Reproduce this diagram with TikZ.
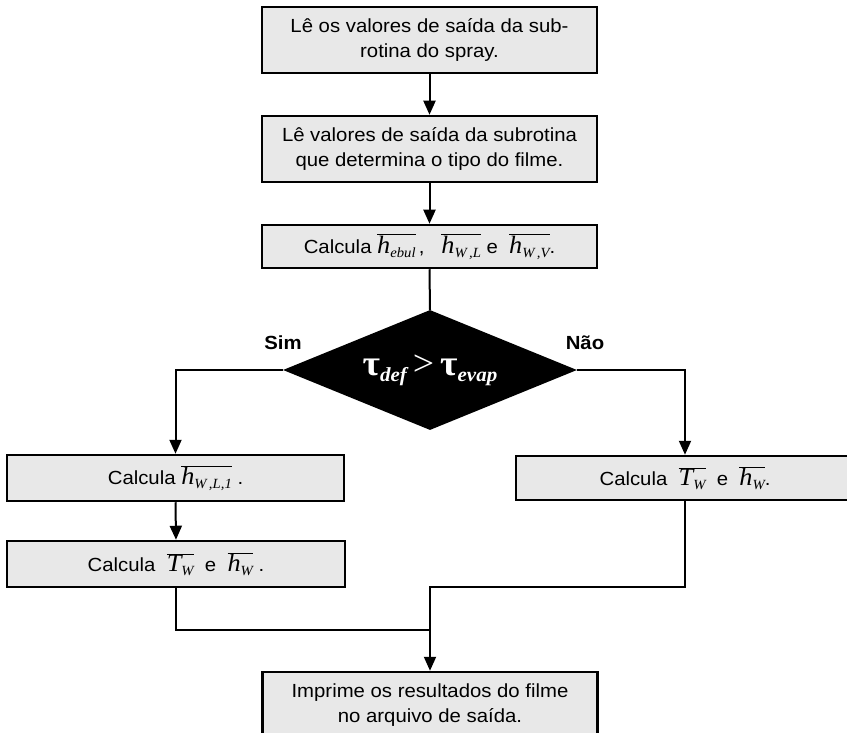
\documentclass[tikz,border=0pt]{standalone}
\usepackage{fontspec}
\setmainfont{Liberation Sans}[FakeStretch=1.07]
\newfontfamily\tms{Liberation Serif}[FakeStretch=1.05]
\usetikzlibrary{arrows.meta,shapes.geometric}
\definecolor{boxgray}{HTML}{E8E8E8}
\newcommand\ovl[1]{$\overline{\mbox{#1}}$}
\newcommand\sbx[1]{\raisebox{-4pt}{\fontsize{14}{14}\selectfont #1}}
\newcommand\hv[1]{\ovl{\tms\itshape\fontsize{25}{25}\selectfont h\sbx{#1}}}
\newcommand\Tv[1]{\ovl{\tms\itshape\fontsize{25}{25}\selectfont T\sbx{#1}}}
\tikzset{
  box/.style={draw, line width=2.5pt, fill=boxgray, minimum width=335pt, minimum height=66pt,
    inner sep=0pt, align=center, font=\fontsize{19}{24.5}\selectfont},
  arr/.style={line width=2pt, -{Triangle[length=14pt,width=12pt]}},
  ln/.style={line width=2pt},
  lbl/.style={font=\bfseries\fontsize{19}{20}\selectfont, inner sep=0pt}
}
\begin{document}
\begin{tikzpicture}[x=1pt,y=-1pt]
\useasboundingbox (0,0) rectangle (847,733);
\clip (0,0) rectangle (847,733);
\node[box] (b1) at (429.5,40) {Lê os valores de saída da sub-\\rotina do spray.};
\node[box] (b2) at (429.5,149) {Lê valores de saída da subrotina\\que determina o tipo do filme.};
\node[box, minimum height=43pt] (b3) at (429.5,246.5) {Calcula \hv{ebul}\,, \ \ \hv{W\,,L} e \ \hv{W\,,V}.};
\node[shape=diamond, fill=black, minimum width=294pt, minimum height=120pt, inner sep=0pt,
      aspect=2.45, text=white] (dia) at (430,370)
  {\tms\bfseries\fontsize{36}{36}\selectfont τ\raisebox{-6pt}{\fontsize{20}{20}\selectfont\itshape def}\,{\mdseries >}\,τ\raisebox{-6pt}{\fontsize{20}{20}\selectfont\itshape evap}};
\node[lbl] (sim) at (283,343) {Sim};
\node[lbl] (nao) at (585,343) {Não};
\node[box, minimum width=337pt, minimum height=46pt] (b4) at (175.5,478) {Calcula \hv{W\,,L,1} .};
\node[box, minimum width=338pt, minimum height=46pt] (b5) at (176,564) {Calcula \ \Tv{W} \ e \ \hv{W} .};
\node[box, minimum width=338pt, minimum height=44pt] (b6) at (685,478) {Calcula \ \Tv{W} \ e \ \hv{W}.};
\node[box] (b7) at (430,705) {Imprime os resultados do filme\\no arquivo de saída.};
\coordinate (j1) at (430,630);
\coordinate (j2) at (430,587);
\draw[arr] (b1.south) -- (b2.north);
\draw[arr] (b2.south) -- (b3.north);
\draw[ln] (b3.south) -- (dia.north);
\draw[arr] (dia.west) -| (b4.north);
\draw[arr] (dia.east) -| (b6.north);
\draw[arr] (b4.south) -- (b5.north);
\draw[ln] (b5.south) |- (j1);
\draw[arr] (b6.south) |- (j2) -- (b7.north);
\end{tikzpicture}
\end{document}
